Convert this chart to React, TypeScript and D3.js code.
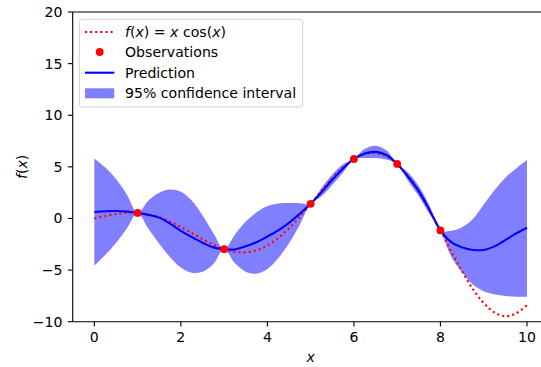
import React from 'react';
import * as d3 from 'd3';

// sample positions along x
const xs = [
  0, 0.25, 0.5, 0.75, 1, 1.25, 1.5, 1.75, 2, 2.25, 2.5, 2.75, 3, 3.25, 3.5, 3.75, 4,
  4.25, 4.5, 4.75, 5, 5.25, 5.5, 5.75, 6, 6.25, 6.5, 6.75, 7, 7.25, 7.5, 7.75, 8,
  8.25, 8.5, 8.75, 9, 9.25, 9.5, 9.75, 10,
];

// f(x) = x cos(x)
const truth = [
  0, 0.24, 0.44, 0.55, 0.54, 0.39, 0.11, -0.31, -0.83, -1.41, -2.0, -2.54, -2.97, -3.23, -3.28, -3.08, -2.61,
  -1.9, -0.95, 0.18, 1.42, 2.69, 3.9, 4.95, 5.76, 6.25, 6.35, 6.03, 5.28, 4.12, 2.6, 0.8, -1.16,
  -3.18, -5.12, -6.84, -8.2, -9.11, -9.47, -9.19, -8.39,
];

// GP mean prediction
const predMean = [
  0.62, 0.7, 0.72, 0.68, 0.54, 0.35, 0.08, -0.5, -1.2, -1.8, -2.35, -2.8, -2.97, -3.0, -2.7, -2.3, -1.75,
  -1.15, -0.42, 0.45, 1.42, 2.55, 3.75, 4.85, 5.76, 6.3, 6.45, 6.15, 5.28, 4.05, 2.65, 0.8, -1.16,
  -2.3, -2.8, -3.05, -3.05, -2.7, -2.1, -1.45, -0.9,
];

// 95% interval edges
const ciUpper = [
  5.82, 4.95, 3.82, 2.33, 0.54, 1.75, 2.5, 2.8, 2.6, 1.75, 0.3, -1.4, -2.97, -1.55, -0.3, 0.6, 1.2,
  1.45, 1.5, 1.47, 1.42, 2.95, 4.25, 5.25, 5.76, 6.75, 7.05, 6.6, 5.28, 4.45, 3.15, 1.2, -1.16,
  -1.2, -0.85, -0.05, 1.35, 2.75, 3.95, 4.85, 5.66,
];
const ciLower = [
  -4.58, -3.55, -2.38, -0.97, 0.54, -1.0, -2.45, -3.75, -4.75, -5.25, -5.15, -4.4, -2.97, -4.35, -5.15, -5.35, -4.9,
  -3.85, -2.4, -0.6, 1.42, 2.15, 3.25, 4.45, 5.76, 5.85, 5.85, 5.7, 5.28, 3.65, 2.15, 0.4, -1.16,
  -3.7, -5.2, -6.4, -7.05, -7.35, -7.5, -7.58, -7.58,
];

// observations
const obsX = [1, 3, 5, 6, 7, 8];
const obsY = [0.54, -2.97, 1.42, 5.76, 5.28, -1.16];

const xTicks = [0, 2, 4, 6, 8, 10];
const yTicks = [-10, -5, 0, 5, 10, 15, 20];

const W = 541;
const H = 367;
const FONT = 'DejaVu Sans, sans-serif';
const FS = 14.1;

export default function App() {
  const x = d3.scaleLinear().domain([-0.5, 10.5]).range([72.7, 548.6]);
  const y = d3.scaleLinear().domain([-10, 20]).range([321.7, 12]);
  const [left, right] = x.range();
  const [bottom, top] = y.range();

  const area = d3
    .area<number>()
    .x((_, i) => x(xs[i]))
    .y0((_, i) => y(ciLower[i]))
    .y1((_, i) => y(ciUpper[i]))
    .curve(d3.curveCatmullRom.alpha(0.5));

  const line = (vals: number[]) =>
    d3
      .line<number>()
      .x((_, i) => x(xs[i]))
      .y((v) => y(v))
      .curve(d3.curveCatmullRom.alpha(0.5))(vals) || '';

  const fmt = (v: number) => (v < 0 ? '\u2212' + Math.abs(v) : String(v));

  const lx = 79.3;
  const ly = 19.3;
  const rows = [32, 52, 72.7, 93.3];

  return (
    <svg
      width={W}
      height={H}
      style={{ position: 'absolute', left: 0, top: 0, background: '#fff' }}
      fontFamily={FONT}
    >
      <defs>
        <clipPath id="plot">
          <rect x={left} y={top} width={right - left} height={bottom - top} />
        </clipPath>
      </defs>

      <g clipPath="url(#plot)">
        <path d={area(xs) || ''} fill="#0000ff" fillOpacity={0.5} />
        <path
          d={line(truth)}
          fill="none"
          stroke="#ff0000"
          strokeWidth={2.1}
          strokeDasharray="2.1,3"
        />
        <path d={line(predMean)} fill="none" stroke="#0000ff" strokeWidth={2.1} />
        {obsX.map((ox, i) => (
          <circle key={i} cx={x(ox)} cy={y(obsY[i])} r={3.9} fill="#ff0000" />
        ))}
      </g>

      {/* spines */}
      <g stroke="#000" strokeWidth={1.1} fill="none">
        <line x1={left} x2={left} y1={top} y2={bottom} />
        <line x1={left} x2={right} y1={bottom} y2={bottom} />
        <line x1={left} x2={right} y1={top} y2={top} />
        <line x1={right} x2={right} y1={top} y2={bottom} />
      </g>

      {/* x ticks */}
      {xTicks.map((t) => (
        <g key={t} transform={`translate(${x(t)},${bottom})`}>
          <line y2={4.8} stroke="#000" strokeWidth={1.1} />
          <text y={20} textAnchor="middle" fontSize={FS} fill="#000">
            {fmt(t)}
          </text>
        </g>
      ))}

      {/* y ticks */}
      {yTicks.map((t) => (
        <g key={t} transform={`translate(${left},${y(t)})`}>
          <line x2={-4.8} stroke="#000" strokeWidth={1.1} />
          <text x={-10.2} y={5} textAnchor="end" fontSize={FS} fill="#000">
            {fmt(t)}
          </text>
        </g>
      ))}

      {/* axis labels */}
      <text
        x={(left + right) / 2}
        y={361.5}
        textAnchor="middle"
        fontSize={FS}
        fontStyle="italic"
        fill="#000"
      >
        x
      </text>
      <text
        transform={`translate(26.5,${(top + bottom) / 2}) rotate(-90)`}
        textAnchor="middle"
        fontSize={FS}
        fill="#000"
      >
        <tspan fontStyle="italic">f</tspan>(<tspan fontStyle="italic">x</tspan>)
      </text>

      {/* legend */}
      <rect
        x={lx}
        y={ly}
        width={223.4}
        height={87.7}
        rx={3}
        fill="#fff"
        fillOpacity={0.8}
        stroke="#d0d0d0"
        strokeWidth={1}
      />
      <line
        x1={85}
        x2={114.3}
        y1={rows[0]}
        y2={rows[0]}
        stroke="#ff0000"
        strokeWidth={2.1}
        strokeDasharray="2.1,3"
      />
      <circle cx={99.7} cy={rows[1]} r={3.9} fill="#ff0000" />
      <line x1={85} x2={114.3} y1={rows[2]} y2={rows[2]} stroke="#0000ff" strokeWidth={2.1} />
      <rect x={85} y={rows[3] - 5} width={29.3} height={10} fill="#0000ff" fillOpacity={0.5} />
      <g fontSize={FS} fill="#000">
        <text x={125} y={rows[0] + 5}>
          <tspan fontStyle="italic">f</tspan>(<tspan fontStyle="italic">x</tspan>) ={' '}
          <tspan fontStyle="italic">x</tspan> cos(<tspan fontStyle="italic">x</tspan>)
        </text>
        <text x={125} y={rows[1] + 5}>
          Observations
        </text>
        <text x={125} y={rows[2] + 5}>
          Prediction
        </text>
        <text x={125} y={rows[3] + 5}>
          95% confidence interval
        </text>
      </g>
    </svg>
  );
}
